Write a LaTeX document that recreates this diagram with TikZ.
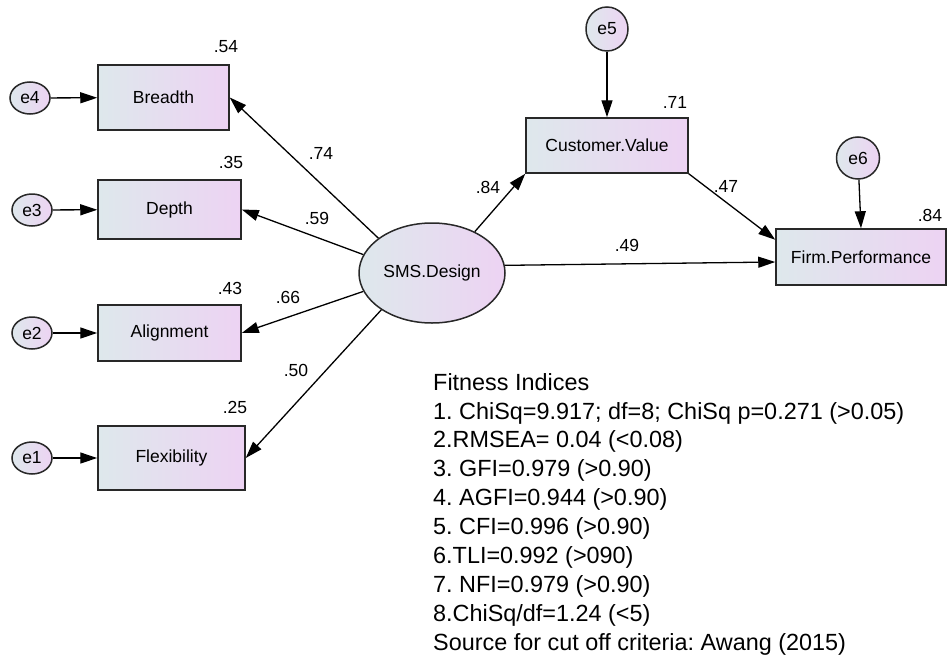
\documentclass[tikz,border=0pt]{standalone}
\usepackage{fontspec}
\setmainfont{Liberation Sans}
\usetikzlibrary{arrows.meta,shapes.geometric,calc}
\definecolor{fillL}{RGB}{222,232,236}
\definecolor{fillR}{RGB}{237,211,243}
\definecolor{rim}{RGB}{40,40,40}
\frenchspacing
\begin{document}
\begin{tikzpicture}[x=1pt,y=-1pt,
  every node/.style={font=\fontsize{17.5}{20}\selectfont},
  obs/.style={rectangle, draw=rim, line width=1.5pt, left color=fillL, right color=fillR, inner sep=0pt},
  lat/.style={ellipse, draw=rim, line width=1.5pt, left color=fillL, right color=fillR, inner sep=0pt},
  reg/.style={draw=black, line width=1.3pt, -{Triangle[length=17pt,width=11pt]}},
  coef/.style={inner sep=0pt}
]
\useasboundingbox (0,0) rectangle (948,664);

% observed indicators
\node[obs, minimum width=131pt, minimum height=65pt] (breadth) at (163.5,97.5) {Breadth};
\node[obs, minimum width=143pt, minimum height=59pt] (depth) at (169.5,209.5) {Depth};
\node[obs, minimum width=143pt, minimum height=56pt] (align) at (169.5,333) {Alignment};
\node[obs, minimum width=147pt, minimum height=64pt] (flex) at (171.5,458) {Flexibility};
\node[obs, minimum width=162pt, minimum height=55pt] (cv) at (607,145.5) {Customer.Value};
\node[obs, minimum width=170pt, minimum height=56pt] (firm) at (861,257) {Firm.Performance};

% latent construct and error terms
\node[lat, minimum width=146pt, minimum height=100pt] (sms) at (432,273) {SMS.Design};
\node[lat, minimum width=40pt, minimum height=32pt] (e4) at (30,98) {e4};
\node[lat, minimum width=40pt, minimum height=32pt] (e3) at (32,210) {e3};
\node[lat, minimum width=40pt, minimum height=32pt] (e2) at (32,333) {e2};
\node[lat, minimum width=40pt, minimum height=32pt] (e1) at (32,458) {e1};
\node[lat, minimum width=42pt, minimum height=44pt] (e5) at (607,29) {e5};
\node[lat, minimum width=43pt, minimum height=42pt] (e6) at (858,158) {e6};

% error paths
\draw[reg] (e4) -- (breadth);
\draw[reg] (e3) -- (depth);
\draw[reg] (e2) -- (align);
\draw[reg] (e1) -- (flex);
\draw[reg] (e5) -- (cv);
\draw[reg] (e6) -- (firm.north);

% structural paths
\coordinate (firmA) at ($(firm.north west)!0.2!(firm.south west)$);
\coordinate (firmB) at ($(firm.west)+(0,5)$);
\draw[reg] (sms.147) -- (breadth.east);
\draw[reg] (sms.165) -- (depth.east);
\draw[reg] (sms.195) -- (align.east);
\draw[reg] (sms.216) -- (flex.east);
\draw[reg] (sms.44) -- (cv.south west);
\draw[reg] (cv.south east) -- (firmA);
\draw[reg] (sms.6) -- (firmB);

% squared multiple correlations
\node[coef] (r2b) at (226,47) {.54};
\node[coef] (r2d) at (231,162) {.35};
\node[coef] (r2a) at (230,288) {.43};
\node[coef] (r2f) at (235,407) {.25};
\node[coef] (r2c) at (675,102) {.71};
\node[coef] (r2p) at (930,215) {.84};

% standardised path coefficients
\node[coef] (wb) at (321,153) {.74};
\node[coef] (wd) at (317,218) {.59};
\node[coef] (wa) at (288,297) {.66};
\node[coef] (wf) at (296,370) {.50};
\node[coef] (wc) at (488,187) {.84};
\node[coef] (wcp) at (726,186) {.47};
\node[coef] (wp) at (627,245) {.49};

% fit summary
\node[anchor=north west, inner sep=0pt, align=left,
      font=\fontsize{23.4}{28.9}\selectfont] (fit) at (433,373) {Fitness Indices\\
1. ChiSq=9.917; df=8; ChiSq p=0.271 (>0.05)\\
2.RMSEA= 0.04 (<0.08)\\
3. GFI=0.979 (>0.90)\\
4. AGFI=0.944 (>0.90)\\
5. CFI=0.996 (>0.90)\\
6.TLI=0.992 (>090)\\
7. NFI=0.979 (>0.90)\\
8.ChiSq/df=1.24 (<5)\\
Source for cut off criteria: Awang (2015)};
\end{tikzpicture}
\end{document}
